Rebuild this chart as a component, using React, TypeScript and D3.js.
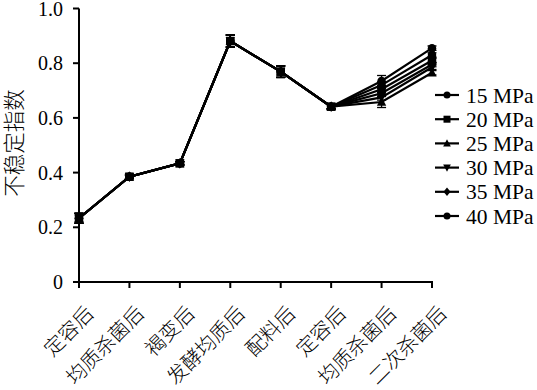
import React from "react";
import * as d3 from "d3";

const categories = ["定容后", "均质杀菌后", "褐变后", "发酵均质后", "配料后", "定容后", "均质杀菌后", "二次杀菌后"];
const commonValues = [0.233, 0.385, 0.434, 0.881, 0.769, 0.641];
const commonErrors = [0.018, 0.006, 0.006, 0.022, 0.021, 0.008];
const seriesNames = ["15 MPa", "20 MPa", "25 MPa", "30 MPa", "35 MPa", "40 MPa"];
const seriesSymbols = ["circle", "square", "triangleUp", "triangleDown", "diamond", "circle"];
const tailValues = [
  [0.735, 0.855],
  [0.705, 0.81],
  [0.658, 0.765],
  [0.675, 0.785],
  [0.69, 0.795],
  [0.72, 0.83],
];
const tailErrors = [
  [0.02, 0.008],
  [0.012, 0.008],
  [0.02, 0.008],
  [0.01, 0.008],
  [0.01, 0.008],
  [0.012, 0.008],
];
const yTicks = [0, 0.2, 0.4, 0.6, 0.8, 1.0];
const yTickLabels = ["0", "0.2", "0.4", "0.6", "0.8", "1.0"];
const yLabel = "不稳定指数";

const W = 537;
const H = 390;
const FONT = "'Liberation Serif', 'Times New Roman', serif";
const CJK = "'Noto Sans CJK SC', 'Noto Sans CJK JP', sans-serif";

function Marker({ type, x, y, s }: { type: string; x: number; y: number; s: number }) {
  if (type === "circle") return <circle cx={x} cy={y} r={s * 0.5} fill="#000" />;
  if (type === "square") return <rect x={x - s / 2} y={y - s / 2} width={s} height={s} fill="#000" />;
  if (type === "triangleUp")
    return <path d={`M${x},${y - s * 0.6}L${x + s * 0.55},${y + s * 0.45}L${x - s * 0.55},${y + s * 0.45}Z`} fill="#000" />;
  if (type === "triangleDown")
    return <path d={`M${x},${y + s * 0.6}L${x + s * 0.55},${y - s * 0.45}L${x - s * 0.55},${y - s * 0.45}Z`} fill="#000" />;
  return <path d={`M${x},${y - s * 0.6}L${x + s * 0.5},${y}L${x},${y + s * 0.6}L${x - s * 0.5},${y}Z`} fill="#000" />;
}

export default function App() {
  const x = d3.scalePoint<number>().domain(categories.map((_, i) => i)).range([79, 432]);
  const y = d3.scaleLinear().domain([0, 1]).range([282, 8.5]);
  const line = d3
    .line<number>()
    .x((_, i) => x(i) as number)
    .y((d) => y(d));

  const series = seriesNames.map((name, k) => ({
    name,
    symbol: seriesSymbols[k],
    values: [...commonValues, ...tailValues[k]],
    errors: [...commonErrors, ...tailErrors[k]],
  }));
  const order = [0, 5, 4, 3, 2, 1];

  const legendY0 = 95;
  const legendDy = 24.2;

  return (
    <svg width={W} height={H} style={{ position: "absolute", left: 0, top: 0, background: "#fff" }} fontFamily={FONT}>
      <rect width={W} height={H} fill="#fff" />
      {order.map((k) => (
        <path key={"l" + k} d={line(series[k].values) || ""} fill="none" stroke="#000" strokeWidth={2.2} />
      ))}
      {order.map((k) =>
        series[k].values.map((v, i) => {
          const cx = x(i) as number;
          const e = series[k].errors[i];
          return (
            <g key={`e${k}-${i}`} stroke="#000" strokeWidth={1.3}>
              <line x1={cx} x2={cx} y1={y(v - e)} y2={y(v + e)} />
              <line x1={cx - 4.5} x2={cx + 4.5} y1={y(v - e)} y2={y(v - e)} />
              <line x1={cx - 4.5} x2={cx + 4.5} y1={y(v + e)} y2={y(v + e)} />
            </g>
          );
        })
      )}
      {order.map((k) =>
        series[k].values.map((v, i) => (
          <Marker key={`m${k}-${i}`} type={series[k].symbol} x={x(i) as number} y={y(v)} s={8.5} />
        ))
      )}
      <line x1={79} x2={79} y1={y(1)} y2={y(0)} stroke="#000" strokeWidth={2} />
      {yTicks.map((t, i) => (
        <g key={"yt" + i}>
          <line x1={73} x2={79} y1={y(t)} y2={y(t)} stroke="#000" strokeWidth={2} />
          <text x={63} y={y(t)} dy="0.35em" textAnchor="end" fontSize={20} fill="#000">
            {yTickLabels[i]}
          </text>
        </g>
      ))}
      <line x1={78} x2={433} y1={y(0)} y2={y(0)} stroke="#000" strokeWidth={2} />
      {categories.map((c, i) => {
        const cx = x(i) as number;
        return (
          <g key={"xt" + i}>
            <line x1={cx} x2={cx} y1={y(0)} y2={y(0) + 6} stroke="#000" strokeWidth={2} />
            <text
              transform={`translate(${cx + 11},${y(0) + 28}) rotate(-45)`}
              textAnchor="end"
              dy="0.35em"
              fontSize={20}
              fontFamily={CJK}
              fontWeight={300}
              fill="#000"
            >
              {c}
            </text>
          </g>
        );
      })}
      <text
        transform={`translate(14.5,${143}) rotate(-90)`}
        textAnchor="middle"
        dy="0.35em"
        fontSize={21.5}
        fontFamily={CJK}
        fontWeight={300}
        fill="#000"
      >
        {yLabel}
      </text>
      {series.map((s, k) => {
        const ly = legendY0 + k * legendDy;
        return (
          <g key={"lg" + k}>
            <line x1={435} x2={459} y1={ly} y2={ly} stroke="#000" strokeWidth={2.2} />
            <Marker type={s.symbol} x={447} y={ly} s={7} />
            <text x={466} y={ly} dy="0.35em" fontSize={21.5} fill="#000">
              {s.name}
            </text>
          </g>
        );
      })}
    </svg>
  );
}
